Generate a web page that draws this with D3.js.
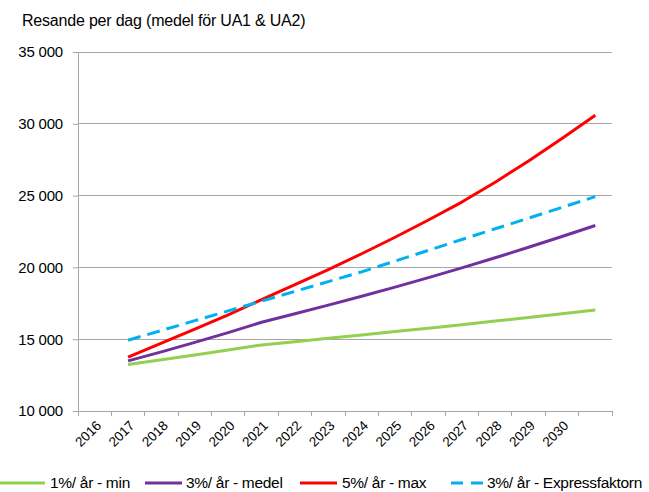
<!DOCTYPE html>
<html><head><meta charset="utf-8">
<script src="https://cdn.jsdelivr.net/npm/d3@7"></script>
<style>body{margin:0;background:#fff}svg{display:block;font-family:"Liberation Sans",Arial,sans-serif}</style>
</head><body><svg id="c" width="649" height="492"></svg>
<script>
const title = "Resande per dag (medel för UA1 & UA2)";
const categories = ["2016","2017","2018","2019","2020","2021","2022","2023","2024","2025","2026","2027","2028","2029","2030",""];
const yTicks = [10000,15000,20000,25000,30000,35000];
const seriesNames = ["1%/ år - min","3%/ år - medel","5%/ år - max","3%/ år - Expressfaktorn"];
const seriesColors = ["#92D050","#7030A0","#FF0000","#00B0F0"];
const minValues   = [null,13240,13570,13900,14250,14600,14830,15060,15290,15530,15770,16010,16260,16510,16770,17030];
const medelValues = [null,13490,14120,14780,15460,16180,16770,17370,17990,18630,19290,19970,20670,21400,22150,22920];
const maxValues   = [null,13750,14720,15700,16700,17750,18800,19850,20950,22100,23300,24550,25930,27410,28980,30600];
const expressValues = [null,14930,15610,16290,16970,17650,18330,19010,19690,20440,21190,21940,22690,23430,24180,24930];
const series = [minValues, medelValues, maxValues, expressValues];

const svg = d3.select("#c");
const L = 78, R = 612, T = 52, B = 411;
const x = d3.scaleBand().domain(d3.range(categories.length)).range([L, R]).paddingInner(0).paddingOuter(0);
const y = d3.scaleLinear().domain([10000, 35000]).range([B, T]);
const fmt = v => d3.format(",")(v).replace(/,/g, " ");

// title
svg.append("text").attr("x", 22).attr("y", 26).attr("font-size", 16).attr("fill", "#000")
  .attr("letter-spacing", -0.2).text(title);

// gridlines
svg.append("g").selectAll("line").data(yTicks.slice(1)).join("line")
  .attr("x1", L).attr("x2", R).attr("y1", d => y(d)).attr("y2", d => y(d))
  .attr("stroke", "#a6a6a6").attr("stroke-width", 1).attr("shape-rendering", "crispEdges");

// y axis
const ya = svg.append("g").attr("transform", `translate(${L},0)`)
  .call(d3.axisLeft(y).tickValues(yTicks).tickFormat(fmt).tickSize(5).tickPadding(10));
ya.select(".domain").attr("stroke", "#a6a6a6");
ya.selectAll(".tick line").attr("stroke", "#a6a6a6");
ya.selectAll("text").attr("font-size", 15).attr("fill", "#000").attr("letter-spacing", -0.2)
  .attr("font-family", "'Liberation Sans', Arial, sans-serif");

// x axis
const xa = svg.append("g").attr("transform", `translate(0,${B})`);
xa.append("line").attr("x1", L).attr("x2", R).attr("stroke", "#a6a6a6").attr("shape-rendering", "crispEdges");
const bounds = d3.range(categories.length + 1).map(i => L + i * x.bandwidth());
xa.selectAll("line.tk").data(bounds).join("line").attr("class", "tk")
  .attr("x1", d => d).attr("x2", d => d).attr("y1", 0).attr("y2", 5)
  .attr("stroke", "#a6a6a6").attr("shape-rendering", "crispEdges");
xa.selectAll("text").data(categories).join("text")
  .attr("transform", (d, i) => `translate(${x(i) + x.bandwidth() / 2 + 4},${12}) rotate(-45)`)
  .attr("text-anchor", "end").attr("dy", "0.35em")
  .attr("font-size", 13.5).attr("fill", "#000").text(d => d);

// lines
const line = d3.line().defined(d => d != null)
  .x((d, i) => x(i) + x.bandwidth() / 2).y(d => y(d));
series.forEach((vals, k) => {
  svg.append("path").datum(vals).attr("d", line)
    .attr("fill", "none").attr("stroke", seriesColors[k]).attr("stroke-width", 3)
    .attr("stroke-linejoin", "round")
    .attr("stroke-dasharray", k === 3 ? "13,7" : null);
});

// legend
const legX = [0, 145, 300, 451];
const legLen = [45, 37, 37, 34];
const legTx = [50, 186, 342, 487];
const lg = svg.append("g");
seriesNames.forEach((n, k) => {
  lg.append("line").attr("x1", legX[k]).attr("x2", legX[k] + legLen[k]).attr("y1", 483).attr("y2", 483)
    .attr("stroke", seriesColors[k]).attr("stroke-width", 3)
    .attr("stroke-dasharray", k === 3 ? "12,8" : null);
  lg.append("text").attr("x", legTx[k]).attr("y", 488)
    .attr("font-size", 15.5).attr("letter-spacing", -0.3).attr("fill", "#000").text(n);
});
</script></body></html>
